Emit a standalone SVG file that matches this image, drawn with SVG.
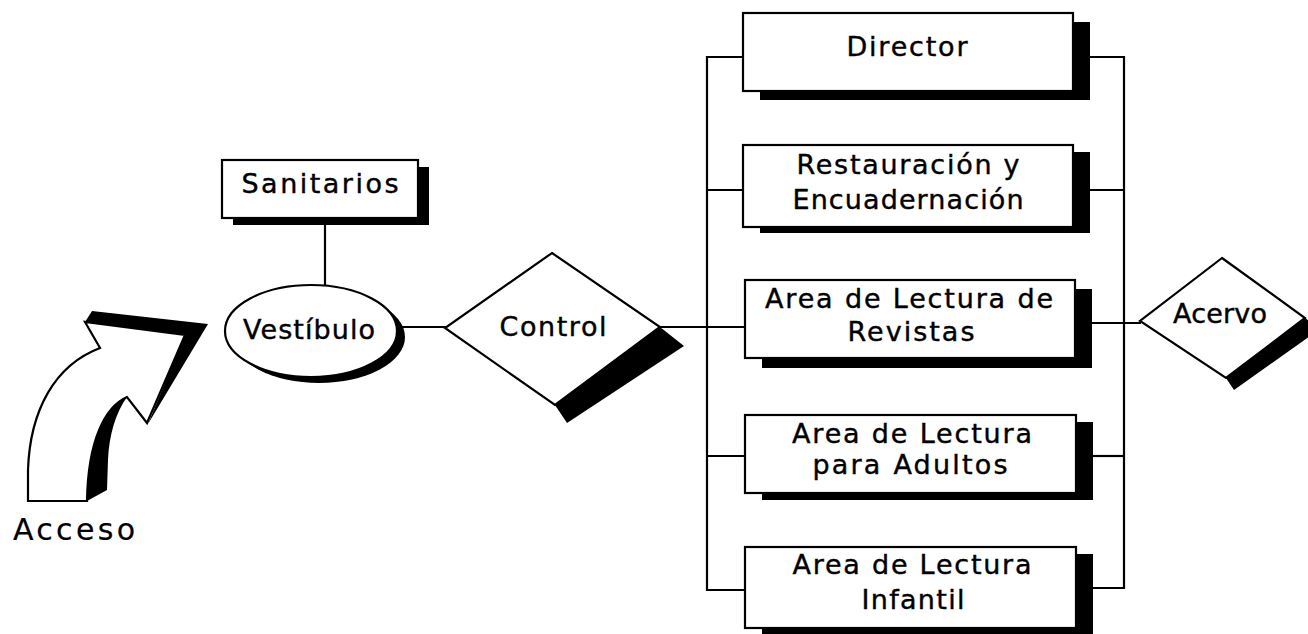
<svg xmlns="http://www.w3.org/2000/svg" width="1308" height="634" viewBox="0 0 1308 634">
<style>
.bg{fill:#ffffff}
.box{fill:#ffffff;stroke:#000;stroke-width:2.2}
.sh{fill:#000}
.ln{fill:none;stroke:#000;stroke-width:2.2}
text{font-family:"DejaVu Sans","Liberation Sans",sans-serif;font-size:27px;fill:#000;stroke:#000;stroke-width:0.4;text-anchor:middle}
</style>
<rect class="bg" x="0" y="0" width="1308" height="634"/>
<g id="connectors">
<line class="ln" x1="325" y1="218" x2="325" y2="286"/>
<line class="ln" x1="396" y1="327" x2="446" y2="327"/>
<line class="ln" x1="660" y1="327" x2="744" y2="327"/>
<polyline class="ln" points="744,57 707,57 707,590 744,590"/>
<line class="ln" x1="707" y1="190" x2="744" y2="190"/>
<line class="ln" x1="707" y1="456" x2="744" y2="456"/>
<polyline class="ln" points="1090,57 1124,57 1124,588 1092,588"/>
<line class="ln" x1="1090" y1="190" x2="1124" y2="190"/>
<line class="ln" x1="1092" y1="323" x2="1141" y2="323"/>
<line class="ln" x1="1092" y1="456" x2="1124" y2="456"/>
</g>
<g id="acceso">
<polygon class="sh" points="85,322 92,311 208,324 148,424 185,335"/>
<path class="sh" d="M127,397 C116,412 109,435 108,460 L107,490 L87,501 C88,440 105,407 127,397 Z"/>
<path class="box" d="M28,501 L28,470 C30,410 55,365 100,348 L85,322 L185,335 L147,423 L127,397 C105,407 88,440 87,501 Z"/>
<text x="74" y="540" textLength="122" lengthAdjust="spacing" style="font-size:30px;stroke-width:0.2">Acceso</text>
</g>
<g id="sanitarios">
<rect class="sh" x="233" y="167" width="196" height="58"/>
<rect class="box" x="222" y="160" width="196" height="58"/>
<text x="320" y="193" textLength="157" lengthAdjust="spacing">Sanitarios</text>
</g>
<g id="vestibulo">
<ellipse class="sh" cx="319" cy="337" rx="86" ry="46"/>
<ellipse class="box" cx="311" cy="331" rx="86" ry="46"/>
<text x="309" y="339" textLength="132" lengthAdjust="spacing">Vestíbulo</text>
</g>
<g id="control">
<polygon class="sh" points="660,327 684,346 567,423 555,405"/>
<polygon class="box" points="552,253 660,327 555,405 445,328"/>
<text x="553" y="336" textLength="107" lengthAdjust="spacing">Control</text>
</g>
<g id="director">
<rect class="sh" x="760" y="22" width="330" height="78"/>
<rect class="box" x="743" y="13" width="330" height="78"/>
<text x="907" y="56" textLength="121" lengthAdjust="spacing">Director</text>
</g>
<g id="restauracion">
<rect class="sh" x="760" y="152" width="330" height="81"/>
<rect class="box" x="743" y="145" width="330" height="82"/>
<text x="908" y="174" textLength="223" lengthAdjust="spacing">Restauración y</text>
<text x="908" y="209" textLength="231" lengthAdjust="spacing">Encuadernación</text>
</g>
<g id="revistas">
<rect class="sh" x="762" y="289" width="330" height="79"/>
<rect class="box" x="745" y="280" width="330" height="78"/>
<text x="909" y="308" textLength="288" lengthAdjust="spacing">Area de Lectura de</text>
<text x="911" y="341" textLength="127" lengthAdjust="spacing">Revistas</text>
</g>
<g id="adultos">
<rect class="sh" x="762" y="422" width="331" height="78"/>
<rect class="box" x="745" y="415" width="331" height="78"/>
<text x="912" y="443" textLength="240" lengthAdjust="spacing">Area de Lectura</text>
<text x="910" y="474" textLength="195" lengthAdjust="spacing">para Adultos</text>
</g>
<g id="infantil">
<rect class="sh" x="762" y="554" width="331" height="82"/>
<rect class="box" x="745" y="547" width="331" height="81"/>
<text x="912" y="574" textLength="239" lengthAdjust="spacing">Area de Lectura</text>
<text x="913" y="609" textLength="103" lengthAdjust="spacing">Infantil</text>
</g>
<g id="acervo">
<polygon class="sh" points="1305,318 1320,329 1234,390 1226,378"/>
<polygon class="box" points="1222,258 1305,318 1226,378 1140,321"/>
<text x="1220" y="323" textLength="94" lengthAdjust="spacing">Acervo</text>
</g>
</svg>
